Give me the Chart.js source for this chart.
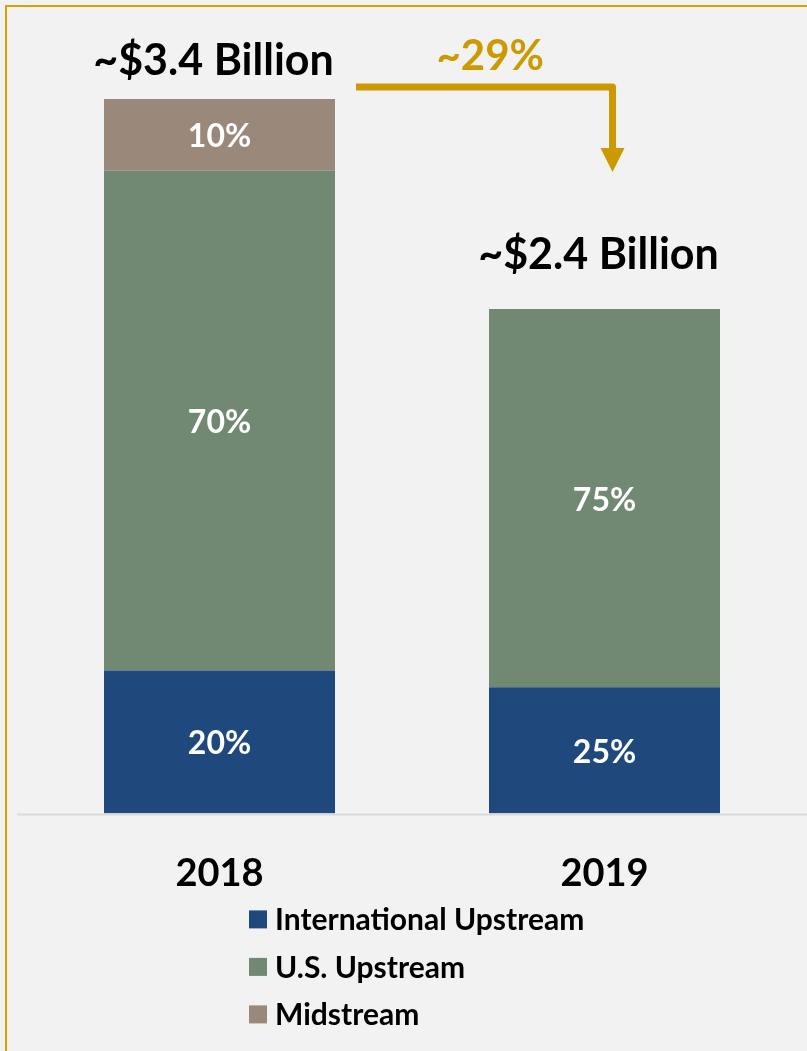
<!DOCTYPE html>
<html lang="en">
<head>
<meta charset="UTF-8">
<title>Capital Budget 2018 vs 2019</title>
<style>
  html, body { margin: 0; padding: 0; background: #f2f2f2; }
  #wrap { position: relative; width: 807px; height: 1051px; overflow: hidden; }
  #frame {
    position: absolute; left: 5px; top: 5px; right: -10px; bottom: -10px;
    border-left: 2px solid #d4a106; border-top: 2px solid #d4a106;
    pointer-events: none;
  }
  canvas { display: block; }
</style>
</head>
<body>
<div id="wrap">
  <canvas id="budget" width="807" height="1051"></canvas>
  <div id="frame"></div>
</div>
<script src="https://cdn.jsdelivr.net/npm/chart.js"></script>
<script>
// capital budget, $ billion, and segment shares in percent
const years = ['2018', '2019'];
const totals = [3.4, 2.4];
const totalLabels = ['~$3.4 Billion', '~$2.4 Billion'];
const intlShare = [20, 25];
const usShare = [70, 75];
const midShare = [10, 0];
const changeLabel = '~29%';

const FONT = 'Lato, "Open Sans", sans-serif';
const GOLD = '#cc9a00';

function toBillions(shares) {
    return totals.map((t, i) => t * shares[i] / 100);
}

// white % text in the middle of every segment
const segmentLabels = {
    id: 'segmentLabels',
    afterDatasetsDraw(chart) {
        const ctx = chart.ctx;
        ctx.save();
        ctx.fillStyle = '#ffffff';
        ctx.font = 'bold 32px ' + FONT;
        ctx.textAlign = 'center';
        ctx.textBaseline = 'middle';
        chart.data.datasets.forEach((ds, di) => {
            chart.getDatasetMeta(di).data.forEach((bar, i) => {
                if (!ds.shares[i]) return;
                ctx.fillText(ds.shares[i] + '%', bar.x, (bar.y + bar.base) / 2 + 2);
            });
        });
        ctx.restore();
    }
};

// totals above the stacks plus the gold "down" arrow between them
const totalsAndArrow = {
    id: 'totalsAndArrow',
    afterDraw(chart) {
        const ctx = chart.ctx;
        const y = chart.scales.y;
        const first = chart.getDatasetMeta(0).data;
        const tops = totals.map(t => y.getPixelForValue(t));
        const lift = [24, 40];   // the second total sits a bit higher

        ctx.save();
        ctx.fillStyle = '#000000';
        ctx.font = 'bold 43px ' + FONT;
        ctx.textAlign = 'center';
        ctx.textBaseline = 'alphabetic';
        totalLabels.forEach((txt, i) => {
            ctx.fillText(txt, first[i].x - 6, tops[i] - lift[i]);
        });

        // arrow: across from the 2018 stack, then down towards 2019
        const x0 = first[0].x + first[0].width / 2 + 21;
        const x1 = first[1].x + 8;
        const yLine = tops[0] - 12;
        const yTip = tops[0] + 73;
        ctx.strokeStyle = GOLD;
        ctx.fillStyle = GOLD;
        ctx.lineWidth = 7;
        ctx.lineJoin = 'round';
        ctx.beginPath();
        ctx.moveTo(x0, yLine);
        ctx.lineTo(x1, yLine);
        ctx.lineTo(x1, yTip - 22);
        ctx.stroke();
        ctx.beginPath();
        ctx.moveTo(x1 - 12, yTip - 24);
        ctx.lineTo(x1 + 12, yTip - 24);
        ctx.lineTo(x1, yTip);
        ctx.closePath();
        ctx.fill();

        ctx.font = 'bold 42px ' + FONT;
        ctx.fillText(changeLabel, (x0 + x1) / 2 + 6, yLine - 17);
        ctx.restore();
    }
};

// baseline across the plot and a one-per-row legend under the years
const baseAndLegend = {
    id: 'baseAndLegend',
    afterDraw(chart) {
        const ctx = chart.ctx;
        const area = chart.chartArea;
        ctx.save();
        ctx.strokeStyle = '#d9d9d9';
        ctx.lineWidth = 2;
        ctx.beginPath();
        ctx.moveTo(area.left - 10, area.bottom + 1);
        ctx.lineTo(chart.width, area.bottom + 1);
        ctx.stroke();

        ctx.font = 'bold 30px ' + FONT;
        ctx.textAlign = 'left';
        ctx.textBaseline = 'middle';
        const left = 249;
        let cy = area.bottom + 106;
        chart.data.datasets.forEach(ds => {
            ctx.fillStyle = ds.backgroundColor;
            ctx.fillRect(left, cy - 9, 18, 18);
            ctx.fillStyle = '#000000';
            ctx.fillText(ds.label, left + 26, cy + 1);
            cy += 47.5;
        });
        ctx.restore();
    }
};

const ctx = document.getElementById('budget').getContext('2d');
new Chart(ctx, {
    type: 'bar',
    data: {
        labels: years,
        datasets: [
            { label: 'International Upstream', data: toBillions(intlShare), shares: intlShare, backgroundColor: '#1f497d' },
            { label: 'U.S. Upstream', data: toBillions(usShare), shares: usShare, backgroundColor: '#718873' },
            { label: 'Midstream', data: toBillions(midShare), shares: midShare, backgroundColor: '#9a887b' }
        ]
    },
    options: {
        responsive: false,
        animation: false,
        layout: { padding: { top: 99, left: 27, right: 10, bottom: 116 } },
        datasets: { bar: { categoryPercentage: 0.6, barPercentage: 1, borderWidth: 0 } },
        scales: {
            x: {
                stacked: true,
                grid: { display: false, drawTicks: false },
                border: { display: false },
                ticks: { color: '#000000', font: { family: FONT, size: 38, weight: 'bold' }, padding: 38 }
            },
            y: {
                stacked: true,
                display: false,
                min: 0,
                max: 3.4
            }
        },
        plugins: {
            legend: { display: false },
            tooltip: { enabled: false }
        }
    },
    plugins: [segmentLabels, totalsAndArrow, baseAndLegend]
});
</script>
</body>
</html>
